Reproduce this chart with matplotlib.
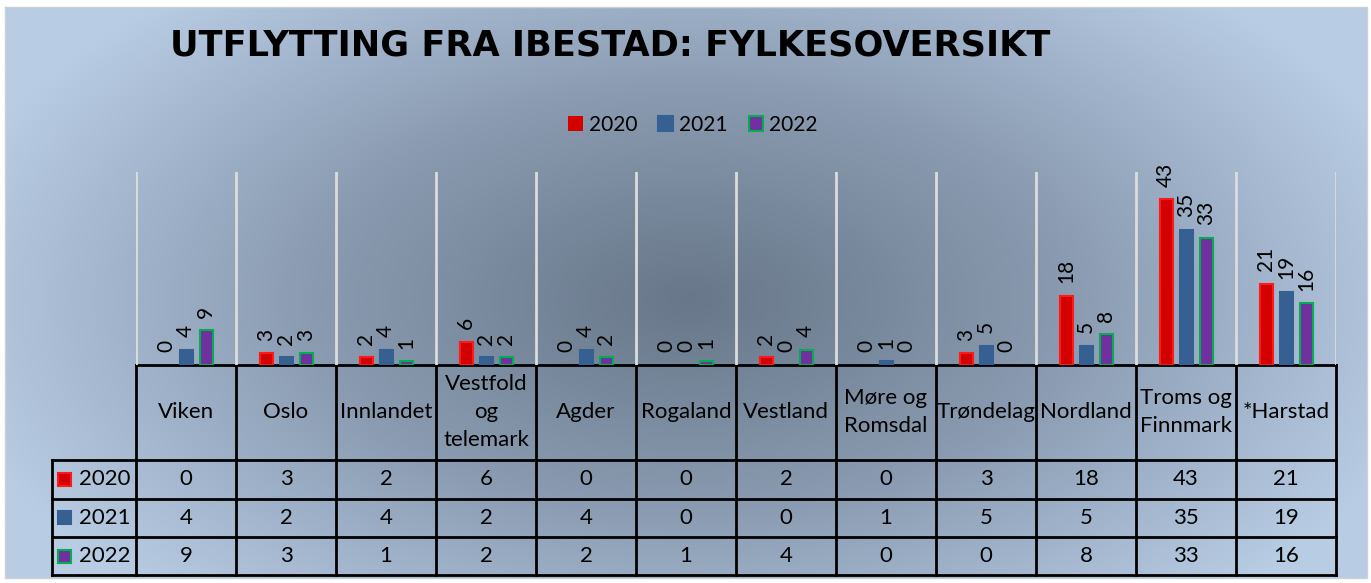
import numpy as np
import matplotlib
matplotlib.use("Agg")
import matplotlib.pyplot as plt
from matplotlib.colors import LinearSegmentedColormap

plt.rcParams['font.family'] = ['Lato', 'DejaVu Sans']

# data
fylker = ['Viken', 'Oslo', 'Innlandet', 'Vestfold\nog\ntelemark', 'Agder', 'Rogaland',
          'Vestland', 'Møre og\nRomsdal', 'Trøndelag', 'Nordland', 'Troms og\nFinnmark', '*Harstad']
aar = ['2020', '2021', '2022']
v2020 = [0, 3, 2, 6, 0, 0, 2, 0, 3, 18, 43, 21]
v2021 = [4, 2, 4, 2, 4, 0, 0, 1, 5, 5, 35, 19]
v2022 = [9, 3, 1, 2, 2, 1, 4, 0, 0, 8, 33, 16]
serier = [v2020, v2021, v2022]

farger = ['#d40000', '#376092', '#7030a0']
kanter = ['#ff1a1a', '#376092', '#00b050']

W, H = 1371, 583
fig = plt.figure(figsize=(W / 100, H / 100), dpi=100)
fig.patch.set_facecolor('white')

# bakgrunn med radial gradient (piksel-koordinater)
bg = fig.add_axes([0, 0, 1, 1])
bg.set_xlim(0, W)
bg.set_ylim(H, 0)
bg.axis('off')
xx, yy = np.meshgrid(np.linspace(5, 1367, 400), np.linspace(7, 578, 200))
d = np.sqrt(((xx - 690) / 760) ** 2 + ((yy - 300) / 420) ** 2)
d = np.clip(d, 0, 1)
cmap = LinearSegmentedColormap.from_list('bg', ['#687789', '#8a9bb1', '#b8cce4'])
bg.imshow(d, cmap=cmap, extent=(5, 1367, 578, 7), aspect='auto', zorder=0,
          interpolation='bilinear', vmin=0, vmax=1)
bg.plot([5, 1367, 1367, 5, 5], [7, 7, 578, 578, 7], color='#d0d0d0', lw=1, zorder=1)

# tittel
fig.text(170 / W, 1 - 46 / H, 'UTFLYTTING FRA IBESTAD: FYLKESOVERSIKT',
         fontsize=25.3, fontweight='bold', family='DejaVu Sans', va='center', ha='left')

# stolpediagram
x0, x1, ybase, ytop = 136, 1336, 365, 172
ax = fig.add_axes([x0 / W, 1 - ybase / H, (x1 - x0) / W, (ybase - ytop) / H])
ax.set_facecolor('none')
ax.set_xlim(-0.5, len(fylker) - 0.5)
ax.set_ylim(0, 50)
for s in ax.spines.values():
    s.set_visible(False)
ax.set_xticks([])
ax.set_yticks([])
for k in range(len(fylker) + 1):
    ax.axvline(k - 0.5, color='#dcdcdc', lw=2, zorder=0)

idx = np.arange(len(fylker))
handles = []
for i, vals in enumerate(serier):
    lw = [1.5 if v > 0 else 0 for v in vals]
    b = ax.bar(idx + (i - 1) * 0.2, vals, width=0.13, color=farger[i],
               edgecolor=kanter[i], linewidth=lw, label=aar[i], zorder=2)
    ax.bar_label(b, labels=[str(v) for v in vals], rotation=90, padding=9, fontsize=15)
    handles.append(b)

fig.legend(handles=handles, labels=aar, loc='center', bbox_to_anchor=(693 / W, 1 - 125 / H),
           ncol=3, frameon=False, fontsize=15, handlelength=0.7, handleheight=0.7,
           handletextpad=0.3, columnspacing=1.0)

# datatabell
lc = 'black'
rows_y = [460, 498.5, 537, 575]
bg.plot([x0, x1], [365, 365], color=lc, lw=2)
for y in rows_y:
    bg.plot([52, x1], [y, y], color=lc, lw=2)
bg.plot([52, 52], [460, 575], color=lc, lw=2)
for k in range(len(fylker) + 1):
    bg.plot([x0 + 100 * k, x0 + 100 * k], [365, 575], color=lc, lw=2)

for k, navn in enumerate(fylker):
    cx = x0 + 50 + 100 * k
    bg.text(cx, 412.5, navn, ha='center', va='center', fontsize=16, linespacing=1.5)
    for r, vals in enumerate(serier):
        bg.text(cx, (rows_y[r] + rows_y[r + 1]) / 2, str(vals[k]),
                ha='center', va='center', fontsize=16)

for r, navn in enumerate(aar):
    cy = (rows_y[r] + rows_y[r + 1]) / 2
    bg.add_patch(plt.Rectangle((58, cy - 6.5), 13, 13, facecolor=farger[r],
                               edgecolor=kanter[r], lw=1.5))
    bg.text(79, cy, navn, ha='left', va='center', fontsize=16)

fig.savefig('out.png', dpi=100)
